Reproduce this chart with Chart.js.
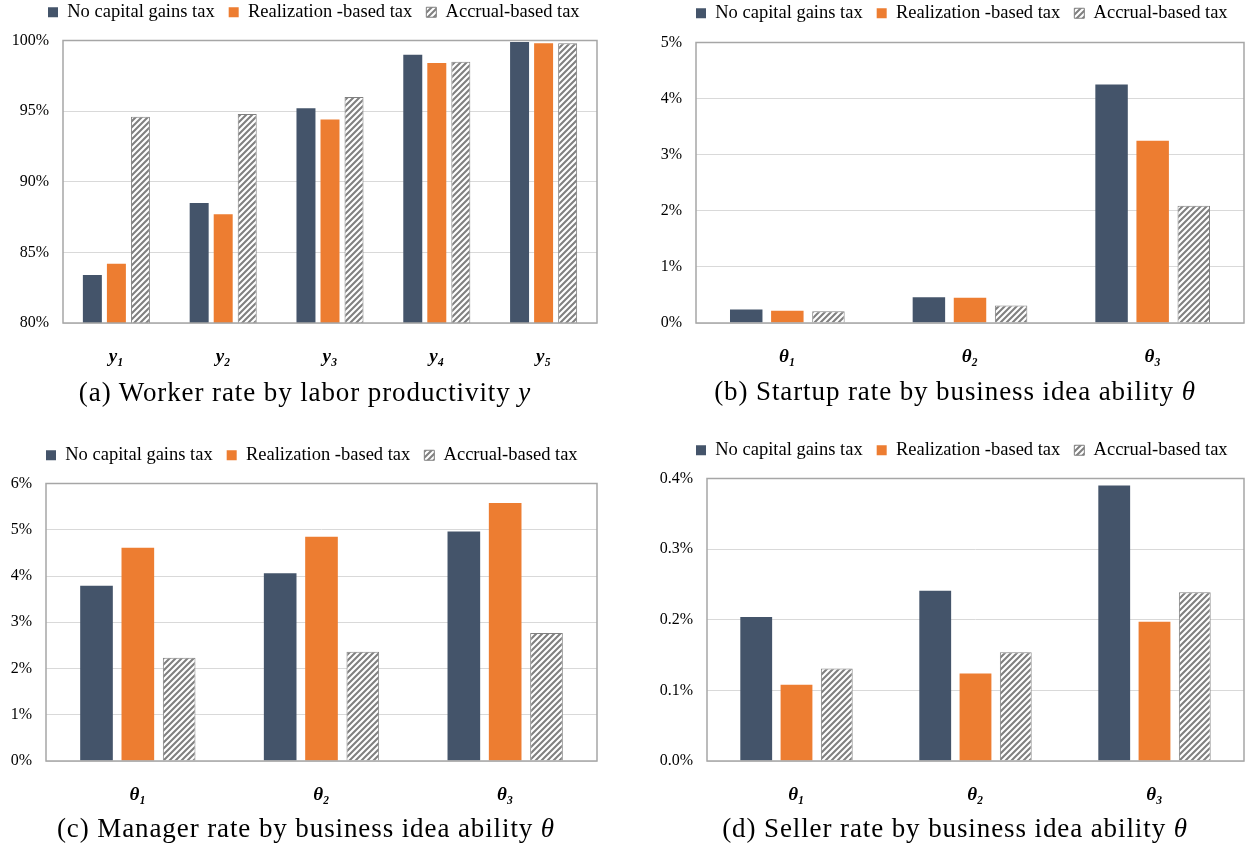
<!DOCTYPE html>
<html>
<head>
<meta charset="utf-8">
<script src="https://cdn.jsdelivr.net/npm/chart.js@4.4.1/dist/chart.umd.min.js"></script>
<style>
  html, body { margin: 0; padding: 0; background: #fff; }
  body { width: 1249px; height: 845px; position: relative; overflow: hidden; }
  .panel { position: absolute; }
  .caption {
    position: absolute; transform: translateX(-50%); white-space: nowrap;
    font-family: 'Liberation Serif', 'Times New Roman', serif;
    font-size: 27px; letter-spacing: 0.9px; line-height: 30px; color: #000;
  }
</style>
</head>
<body>
<div class="panel" style="left:0;top:-11px;width:600px;height:394px"><canvas id="chart-a"></canvas></div>
<div class="panel" style="left:625px;top:-10px;width:624px;height:393px"><canvas id="chart-b"></canvas></div>
<div class="panel" style="left:0;top:432px;width:600px;height:389px"><canvas id="chart-c"></canvas></div>
<div class="panel" style="left:625px;top:427px;width:624px;height:394px"><canvas id="chart-d"></canvas></div>

<div class="caption" style="left:305px;top:377px">(a) Worker rate by labor productivity <i>y</i></div>
<div class="caption" style="left:955px;top:376px">(b) Startup rate by business idea ability <i>θ</i></div>
<div class="caption" style="left:306px;top:813px">(c) Manager rate by business idea ability <i>θ</i></div>
<div class="caption" style="left:955px;top:813px">(d) Seller rate by business idea ability <i>θ</i></div>

<script>
// series names
const seriesNames = ['No capital gains tax', 'Realization -based tax', 'Accrual-based tax'];

// (a) worker rate, %
const productivityLabels = ['y₁', 'y₂', 'y₃', 'y₄', 'y₅'];
const workerNoTax = [83.4, 88.5, 95.2, 99.0, 99.9];
const workerRealization = [84.2, 87.7, 94.4, 98.4, 99.8];
const workerAccrual = [94.6, 94.8, 96.0, 98.5, 99.8];

// (b)-(d) by business idea ability, %
const abilityLabels = ['θ₁', 'θ₂', 'θ₃'];
const startupNoTax = [0.24, 0.46, 4.25];
const startupRealization = [0.22, 0.45, 3.25];
const startupAccrual = [0.21, 0.31, 2.09];

const managerNoTax = [3.79, 4.06, 4.96];
const managerRealization = [4.61, 4.85, 5.58];
const managerAccrual = [2.23, 2.36, 2.77];

const sellerNoTax = [0.204, 0.241, 0.390];
const sellerRealization = [0.108, 0.124, 0.197];
const sellerAccrual = [0.131, 0.154, 0.239];

const SERIF = "'Liberation Serif', 'Times New Roman', serif";
const DARK = '#44546a';
const ORANGE = '#ed7d31';
const HATCH_LINE = '#808080';

// diagonal stripes for the accrual bars
function hatchPattern() {
  const c = document.createElement('canvas');
  c.width = 6; c.height = 6;
  const g = c.getContext('2d');
  g.fillStyle = '#fff';
  g.fillRect(0, 0, 6, 6);
  g.strokeStyle = HATCH_LINE;
  g.lineWidth = 2.1;
  g.beginPath();
  g.moveTo(0, 6); g.lineTo(6, 0);
  g.moveTo(-1, 1); g.lineTo(1, -1);
  g.moveTo(5, 7); g.lineTo(7, 5);
  g.stroke();
  return g.createPattern(c, 'repeat');
}

// box round the plot area
const plotFrame = {
  id: 'plotFrame',
  afterDatasetsDraw(chart) {
    const { ctx, chartArea: { left, top, right, bottom } } = chart;
    ctx.save();
    ctx.strokeStyle = '#a6a6a6';
    ctx.lineWidth = 1.5;
    ctx.strokeRect(left, top, right - left, bottom - top);
    ctx.restore();
  }
};

// legend: extra room below it, and a horizontal offset
const legendPlacement = {
  id: 'legendPlacement',
  beforeInit(chart, args, opts) {
    const fit = chart.legend.fit;
    chart.legend.fit = function () {
      fit.call(this);
      this.height += opts.gap || 0;
    };
  },
  afterLayout(chart, args, opts) {
    chart.legend.left += opts.shift || 0;
    chart.legend.right += opts.shift || 0;
  }
};

function drawPanel(id, labels, noTax, realization, accrual, cfg) {
  new Chart(document.getElementById(id), {
    type: 'bar',
    data: {
      labels,
      datasets: [
        { label: seriesNames[0], data: noTax, backgroundColor: DARK, borderWidth: 0 },
        { label: seriesNames[1], data: realization, backgroundColor: ORANGE, borderWidth: 0 },
        { label: seriesNames[2], data: accrual, backgroundColor: hatchPattern(), borderColor: HATCH_LINE, borderWidth: 1 },
      ],
    },
    options: {
      responsive: true,
      maintainAspectRatio: false,
      animation: false,
      datasets: { bar: { categoryPercentage: 0.675, barPercentage: 0.79 } },
      layout: { padding: { left: 0, right: cfg.padRight, top: 0, bottom: 0 } },
      plugins: {
        legendPlacement: { gap: cfg.gap, shift: cfg.legendShift },
        tooltip: { enabled: false },
        legend: {
          position: 'top',
          align: 'start',
          labels: {
            boxWidth: 10, boxHeight: 10, padding: 14, color: '#000',
            font: { family: SERIF, size: 18.5 },
          },
        },
      },
      scales: {
        x: {
          grid: { display: false },
          border: { display: false },
          ticks: { color: '#000', padding: 15, font: { family: SERIF, size: 19, style: 'italic', weight: 'bold' } },
          afterFit(scale) { scale.height = 60; },
        },
        y: {
          min: cfg.min, max: cfg.max,
          grid: { color: '#d9d9d9', lineWidth: 1, drawTicks: false },
          border: { display: false },
          ticks: {
            stepSize: cfg.step, color: '#000', padding: 14,
            font: { family: SERIF, size: 16 },
            callback: cfg.format,
          },
          afterFit(scale) { scale.width = cfg.axisWidth; },
        },
      },
    },
    plugins: [legendPlacement, plotFrame],
  });
}

drawPanel('chart-a', productivityLabels, workerNoTax, workerRealization, workerAccrual,
  { min: 80, max: 100, step: 5, format: v => v + '%', axisWidth: 63, padRight: 3, gap: 9, legendShift: 34 });
drawPanel('chart-b', abilityLabels, startupNoTax, startupRealization, startupAccrual,
  { min: 0, max: 5, step: 1, format: v => v + '%', axisWidth: 71, padRight: 5, gap: 10, legendShift: 57 });
drawPanel('chart-c', abilityLabels, managerNoTax, managerRealization, managerAccrual,
  { min: 0, max: 6, step: 1, format: v => v + '%', axisWidth: 46, padRight: 3, gap: 9, legendShift: 32 });
drawPanel('chart-d', abilityLabels, sellerNoTax, sellerRealization, sellerAccrual,
  { min: 0, max: 0.4, step: 0.1, format: v => v.toFixed(1) + '%', axisWidth: 82, padRight: 5, gap: 9, legendShift: 57 });
</script>
</body>
</html>
